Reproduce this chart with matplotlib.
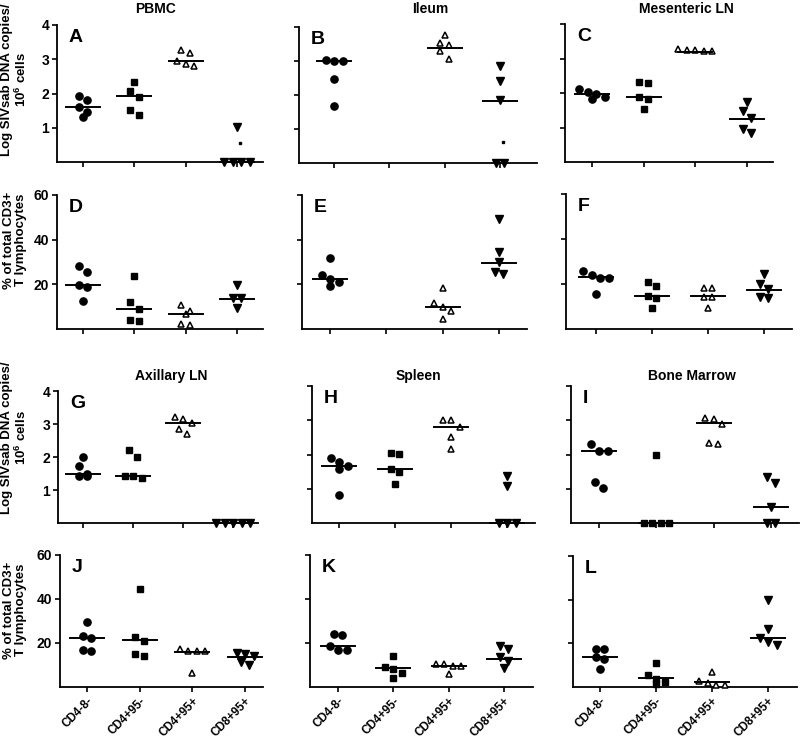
import numpy as np
import matplotlib
matplotlib.use("Agg")
import matplotlib.pyplot as plt

plt.rcParams['font.family'] = ['Liberation Sans', 'DejaVu Sans']
plt.rcParams['font.weight'] = 'bold'
plt.rcParams['mathtext.fontset'] = 'custom'
plt.rcParams['mathtext.rm'] = 'Liberation Sans:bold'
plt.rcParams['mathtext.bf'] = 'Liberation Sans:bold'

# categories
groups = ['CD4-8-', 'CD4+95-', 'CD4+95+', 'CD8+95+']
tissues = ['PBMC', 'Ileum', 'Mesenteric LN', 'Axillary LN', 'Spleen', 'Bone Marrow']
letters_dna = ['A', 'B', 'C', 'G', 'H', 'I']
letters_pct = ['D', 'E', 'F', 'J', 'K', 'L']

# Log SIVsab DNA copies / 10^6 cells, per group
pbmc_dna = [[1.93, 1.80, 1.60, 1.45, 1.32], [2.35, 2.06, 1.91, 1.52, 1.37],
            [3.28, 3.19, 2.95, 2.86, 2.80], [1.03, 0, 0, 0, 0]]
ileum_dna = [[3.04, 2.99, 3.01, 2.48, 1.67], [],
             [3.77, 3.53, 3.48, 3.28, 3.06], [2.84, 2.40, 1.86, 0, 0]]
mesln_dna = [[2.11, 2.02, 1.97, 1.89, 1.82], [2.32, 2.30, 1.89, 1.83, 1.54],
             [3.28, 3.25, 3.22, 3.22, 3.25], [1.75, 1.48, 1.28, 0.97, 0.83]]
axln_dna = [[1.99, 1.73, 1.49, 1.43, 1.43], [2.21, 1.99, 1.41, 1.36, 1.41],
            [3.22, 3.14, 3.04, 2.86, 2.71], [0, 0, 0, 0, 0]]
spleen_dna = [[1.89, 1.77, 1.67, 1.57, 0.82], [2.03, 2.01, 1.57, 1.50, 1.14],
              [3.02, 3.02, 2.79, 2.52, 2.15], [1.36, 1.09, 0, 0, 0]]
bm_dna = [[2.31, 2.11, 2.11, 1.19, 1.02], [2.00, 0, 0, 0, 0],
          [3.07, 3.03, 2.89, 2.35, 2.31], [1.34, 1.18, 0.48, 0, 0]]

# median lines (DNA)
pbmc_dna_med = [1.60, 1.93, 2.95, 0]
ileum_dna_med = [2.99, None, 3.39, 1.82]
mesln_dna_med = [1.96, 1.88, 3.20, 1.25]
axln_dna_med = [1.48, 1.41, 3.03, 0]
spleen_dna_med = [1.67, 1.57, 2.80, 0]
bm_dna_med = [2.11, 0, 2.91, 0.48]

# small stray dots in the CD8+95+ column
pbmc_dot = 0.56
ileum_dot = 0.62

# % of total CD3+ T lymphocytes, per group
pbmc_pct = [[28.3, 25.7, 19.5, 19.0, 12.6], [23.8, 11.9, 8.8, 3.9, 3.4],
            [10.9, 7.9, 6.7, 2.4, 1.8], [19.5, 14.1, 13.8, 9.4]]
ileum_pct = [[31.9, 24.2, 22.4, 20.9, 19.4], [],
             [18.2, 11.5, 10.0, 8.2, 4.5], [49.1, 34.6, 29.9, 25.7, 24.6]]
mesln_pct = [[25.8, 23.8, 22.6, 22.6, 15.6], [20.8, 19.2, 14.7, 13.7, 9.5],
             [18.1, 18.1, 14.4, 14.1, 9.5], [24.4, 19.9, 17.7, 14.1, 13.7]]
axln_pct = [[29.5, 23.4, 22.2, 16.9, 16.2], [44.4, 22.8, 21.1, 15.1, 13.9],
            [17.4, 16.5, 16.5, 16.5, 6.3], [15.4, 15.0, 14.2, 11.2, 10.1]]
spleen_pct = [[24.3, 23.6, 18.5, 17.0, 17.0], [14.0, 9.1, 8.0, 6.5, 4.1],
              [10.6, 10.3, 9.6, 9.4, 5.8], [18.5, 17.5, 13.7, 11.7, 8.8]]
bm_pct = [[17.6, 17.3, 13.7, 13.0, 8.4], [11.0, 5.3, 3.8, 2.3, 1.2],
          [6.9, 2.7, 1.8, 1.1, 1.1], [40.0, 26.7, 22.6, 20.6, 19.1]]

pbmc_pct_med = [19.5, 8.8, 6.7, 13.5]
ileum_pct_med = [22.4, None, 10.0, 29.7]
mesln_pct_med = [22.9, 14.7, 14.7, 17.4]
axln_pct_med = [22.2, 21.5, 16.0, 13.6]
spleen_pct_med = [18.5, 8.7, 9.6, 12.9]
bm_pct_med = [13.7, 4.1, 2.3, 22.4]

dna_sets = [pbmc_dna, ileum_dna, mesln_dna, axln_dna, spleen_dna, bm_dna]
dna_meds = [pbmc_dna_med, ileum_dna_med, mesln_dna_med, axln_dna_med, spleen_dna_med, bm_dna_med]
pct_sets = [pbmc_pct, ileum_pct, mesln_pct, axln_pct, spleen_pct, bm_pct]
pct_meds = [pbmc_pct_med, ileum_pct_med, mesln_pct_med, axln_pct_med, spleen_pct_med, bm_pct_med]
stray = {0: pbmc_dot, 1: ileum_dot}

# panel boxes in pixels: left, right, top, bottom, x of tick 1, x of tick 4
boxes = {
    'A': (57, 263, 25, 162, 83, 237), 'B': (299, 537, 27, 163, 334, 500),
    'C': (565, 773, 24, 162, 592, 747), 'D': (57, 263, 195, 329, 83, 237),
    'E': (302, 527, 195, 329, 330, 499), 'F': (566, 792, 194, 329, 596, 764),
    'G': (58, 258, 391, 523, 83, 233), 'H': (312, 535, 386, 523, 339, 507),
    'I': (571, 799, 386, 523, 599, 771), 'J': (60, 263, 555, 687, 87, 245),
    'K': (310, 533, 555, 687, 338, 504), 'L': (573, 797, 556, 687, 600, 768),
}

W, H = 800, 739
fig = plt.figure(figsize=(W / 100, H / 100), dpi=100)

markers = [dict(marker='o', ms=5.2, mfc='black', mec='black'),
           dict(marker='s', ms=4.8, mfc='black', mec='black'),
           dict(marker='^', ms=4.8, mfc='white', mec='black', mew=1.1),
           dict(marker='v', ms=5.6, mfc='black', mec='black')]


def swarm(vals, ppu, step, thr=8.0):
    # spread points of nearly equal value side by side, like a column scatter
    order = sorted(range(len(vals)), key=lambda i: -vals[i])
    rows = []
    for i in order:
        if rows and abs(vals[rows[-1][0]] - vals[i]) * ppu < thr:
            rows[-1].append(i)
        else:
            rows.append([i])
    offs = [0.0] * len(vals)
    for r in rows:
        for k, i in enumerate(r):
            offs[i] = (k - (len(r) - 1) / 2) * step
    return offs


def make_panel(letter, data, meds, ymax, yticks, show_ylab, show_xlab, dot=None):
    l, r, t, b, x1, x4 = boxes[letter]
    sp = (x4 - x1) / 3
    ax = fig.add_axes([l / W, 1 - b / H, (r - l) / W, (b - t) / H])
    ax.set_xlim(1 - (x1 - l) / sp, 4 + (r - x4) / sp)
    ax.set_ylim(0, ymax)
    ppu = (b - t) / ymax
    for gi, vals in enumerate(data):
        if not vals:
            continue
        offs = swarm(vals, ppu, 8.5 / sp)
        xs = [gi + 1 + o for o in offs]
        ax.plot(xs, vals, ls='none', clip_on=False, zorder=3, **markers[gi])
        if meds[gi] is not None:
            hw = 17 / sp
            ax.plot([gi + 1 - hw, gi + 1 + hw], [meds[gi]] * 2, color='black',
                    lw=1.4, zorder=4, clip_on=False)
    if dot is not None:
        ax.plot([4 + 3 / sp], [dot], ls='none', marker='s', ms=1.6, color='black')
    for s in ['top', 'right']:
        ax.spines[s].set_visible(False)
    for s in ['left', 'bottom']:
        ax.spines[s].set_linewidth(1.3)
    ax.set_xticks([1, 2, 3, 4])
    ax.set_yticks(yticks)
    ax.tick_params(width=1.2, length=3.5, labelsize=10, pad=2)
    if show_xlab:
        ax.set_xticklabels(groups, rotation=45, ha='right', rotation_mode='anchor',
                           fontsize=8.5, fontweight='bold')
    else:
        ax.set_xticklabels([])
    if not show_ylab:
        ax.set_yticklabels([])
    else:
        for lab in ax.get_yticklabels():
            lab.set_fontweight('bold')
    ax.text(12 / (r - l), 1 - 4 / (b - t), letter, transform=ax.transAxes,
            ha='left', va='top', fontsize=14, fontweight='bold')
    return ax


for ti in range(6):
    row = ti // 3
    col = ti % 3
    make_panel(letters_dna[ti], dna_sets[ti], dna_meds[ti], 4, [1, 2, 3, 4],
               col == 0, False, stray.get(ti))
    make_panel(letters_pct[ti], pct_sets[ti], pct_meds[ti], 60, [20, 40, 60],
               col == 0, row == 1)

title_pos = [(156, 9), (430, 9), (686, 9), (171, 376), (418, 376), (692, 376)]
for name, (tx, ty) in zip(tissues, title_pos):
    fig.text(tx / W, 1 - ty / H, name, ha='center', va='center',
             fontsize=10, fontweight='bold')

ylab_dna = 'Log SIVsab DNA copies/\n10$^{6}$ cells'
ylab_pct = '% of total CD3+\nT lymphocytes'
for lab, cy in [(ylab_dna, 80), (ylab_pct, 240), (ylab_dna, 438), (ylab_pct, 610)]:
    fig.text(15 / W, 1 - cy / H, lab, rotation=90, ha='center', va='center',
             fontsize=9.5, fontweight='bold', linespacing=1.1)

fig.savefig('out.png', dpi=100)
